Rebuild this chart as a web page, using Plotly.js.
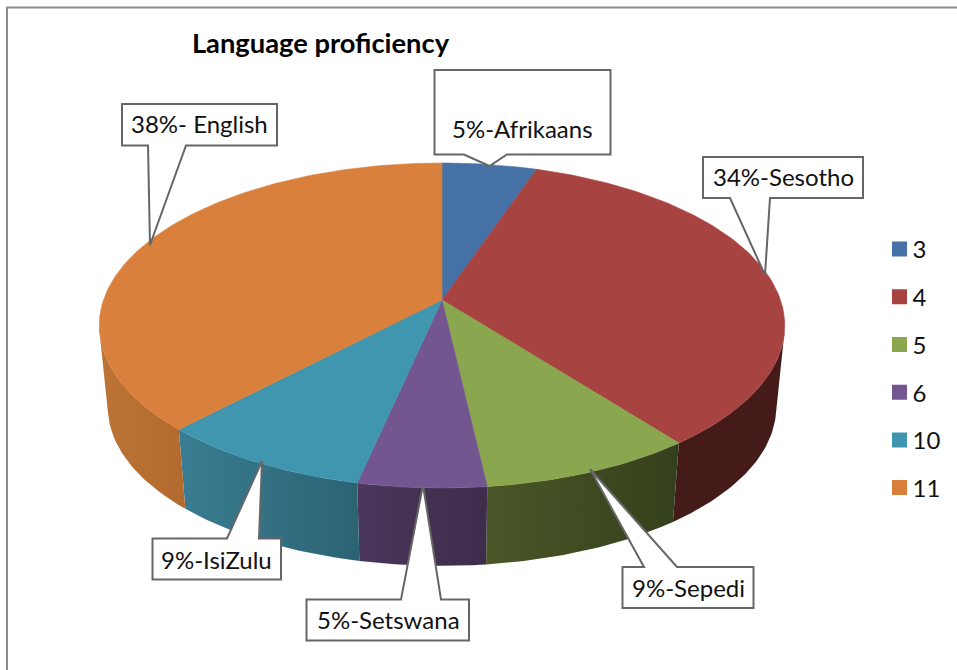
<!DOCTYPE html>
<html><head><meta charset="utf-8">
<script src="https://cdn.plot.ly/plotly-3.0.0.min.js"></script>
<style>html,body{margin:0;padding:0;background:#fff}#c{width:957px;height:670px}</style></head>
<body><div id="c"></div>
<script>
// --- chart data ---
const categories = ['3','4','5','6','10','11'];
const languages  = ['5%-Afrikaans','34%-Sesotho','9%-Sepedi','5%-Setswana','9%-IsiZulu','38%- English'];
const shares     = [5.2, 34.3, 8.7, 5.2, 8.7, 37.9];
const faceColors = ['#4571a7','#a74442','#8aa64e','#735690','#4096ae','#d9803c'];
const wallLeft   = ['#2c4668','#451b1a','#4b5727','#4a375c','#3a7d92','#bb7336'];
const wallRight  = ['#2c4668','#451b1a','#343f1c','#3d2c4a','#2b6373','#b26a2e'];

// --- projection of the pie disc (perspective tilt) ---
const apexX=442, apexY=300, a=338.5, b=158.5, k=0.157, depthY=82.5, depthScale=0.975;
function rim(deg, scale, oy){
  const t=deg*Math.PI/180, X=Math.sin(t), Y=Math.cos(t), d=1+k*Y;
  return [apexX+scale*a*X/d, oy-scale*b*Y/d];
}
function arc(d0,d1,scale,oy){
  const n=Math.max(2,Math.ceil(Math.abs(d1-d0))), pts=[];
  for(let i=0;i<=n;i++) pts.push(rim(d0+(d1-d0)*i/n,scale,oy));
  return pts;
}
const wallFrom=101, wallTo=259;
const traces=[]; let cum=0; const spans=shares.map(v=>{const s=[cum*3.6,(cum+v)*3.6];cum+=v;return s;});

// side walls
spans.forEach((s,i)=>{
  const d0=Math.max(s[0],wallFrom), d1=Math.min(s[1],wallTo);
  if(d1<=d0) return;
  const pts=arc(d0,d1,1,apexY).concat(arc(d1,d0,depthScale,apexY+depthY));
  pts.push(pts[0]);
  traces.push({type:'scatter',mode:'lines',x:pts.map(p=>p[0]),y:pts.map(p=>p[1]),
    fill:'toself',line:{width:0,color:wallRight[i]},
    fillgradient:{type:'horizontal',colorscale:[[0,wallLeft[i]],[1,wallRight[i]]]},
    showlegend:false,hoverinfo:'skip'});
});
// top faces
spans.forEach((s,i)=>{
  const pts=[[apexX,apexY]].concat(arc(s[0],s[1],1,apexY)); pts.push([apexX,apexY]);
  traces.push({type:'scatter',mode:'lines',x:pts.map(p=>p[0]),y:pts.map(p=>p[1]),
    fill:'toself',fillcolor:faceColors[i],line:{width:0.6,color:faceColors[i]},
    name:languages[i],showlegend:false,hoverinfo:'skip'});
});
// legend entries
categories.forEach((c,i)=>{
  traces.push({type:'scatter',mode:'markers',x:[null],y:[null],name:c,legendgroup:c,
    marker:{symbol:'square',size:15,color:faceColors[i]},hoverinfo:'skip'});
});

// callouts: box [x0,y0,x1,y1], wedge base on the box edge [bx0,bx1], tip [x,y]
const callouts=[
 {box:[434.5,70,610.5,154.5], base:[464,507], tip:[489.5,166], tx:522, ty:128.5},
 {box:[703,157,863,198],      base:[730,770], tip:[765,275], tx:783, ty:176.5},
 {box:[622.5,567,753.5,608],  base:[644,677], tip:[590,469], tx:688, ty:587.5, wedgeTop:true},
 {box:[306.5,599.5,469,640.5],base:[401,441], tip:[423,485], tx:388, ty:619.5, wedgeTop:true},
 {box:[152.5,538.5,281,579.5],base:[227,259], tip:[262,461], tx:216, ty:559.5, wedgeTop:true},
 {box:[122,104,277,145.5],    base:[148,186], tip:[150,245], tx:199, ty:123.5}
];
const shapes=callouts.map(c=>{
  const [x0,y0,x1,y1]=c.box,[b0,b1]=c.base,[tx,ty]=c.tip;
  const path=c.wedgeTop
    ? `M${x0},${y0}L${b0},${y0}L${tx},${ty}L${b1},${y0}L${x1},${y0}L${x1},${y1}L${x0},${y1}Z`
    : `M${x0},${y0}L${x1},${y0}L${x1},${y1}L${b1},${y1}L${tx},${ty}L${b0},${y1}L${x0},${y1}Z`;
  return {type:'path',xref:'x',yref:'y',path,fillcolor:'#fff',line:{color:'#666',width:2},layer:'above'};
});
// outer frame (left and top edges)
shapes.push({type:'path',xref:'x',yref:'y',path:'M7,670L7,7.5L957,7.5',line:{color:'#8c8c8c',width:2},fillcolor:'rgba(0,0,0,0)',layer:'below'});

const annotations=callouts.map((c,i)=>({xref:'x',yref:'y',x:c.tx,y:c.ty,text:languages[i],showarrow:false,
  xanchor:'center',yanchor:'middle',font:{family:'Lato, Carlito, sans-serif',size:24,color:'#111'}}));

const layout={width:957,height:670,margin:{l:0,r:0,t:0,b:0,pad:0},paper_bgcolor:'#fff',plot_bgcolor:'#fff',
  title:{text:'<b>Language proficiency</b>',x:320.5/957,xanchor:'center',y:1-43/670,yanchor:'middle',
    font:{family:'Lato, Carlito, sans-serif',size:27.3,color:'#000'}},
  xaxis:{range:[0,957],visible:false,fixedrange:true},
  yaxis:{range:[670,0],visible:false,fixedrange:true},
  showlegend:true,
  legend:{x:872.5/957,xanchor:'left',y:1-227/670,yanchor:'top',tracegroupgap:13.5,bgcolor:'rgba(0,0,0,0)',
    font:{family:'Lato, Carlito, sans-serif',size:24,color:'#111'},itemclick:false,itemdoubleclick:false},
  hovermode:false,shapes,annotations};

Plotly.newPlot('c',traces,layout,{displayModeBar:false}).then(()=>{
  document.querySelectorAll('.legend .legendsymbols').forEach(n=>n.setAttribute('transform','translate(7,0)'));
});
</script></body></html>
